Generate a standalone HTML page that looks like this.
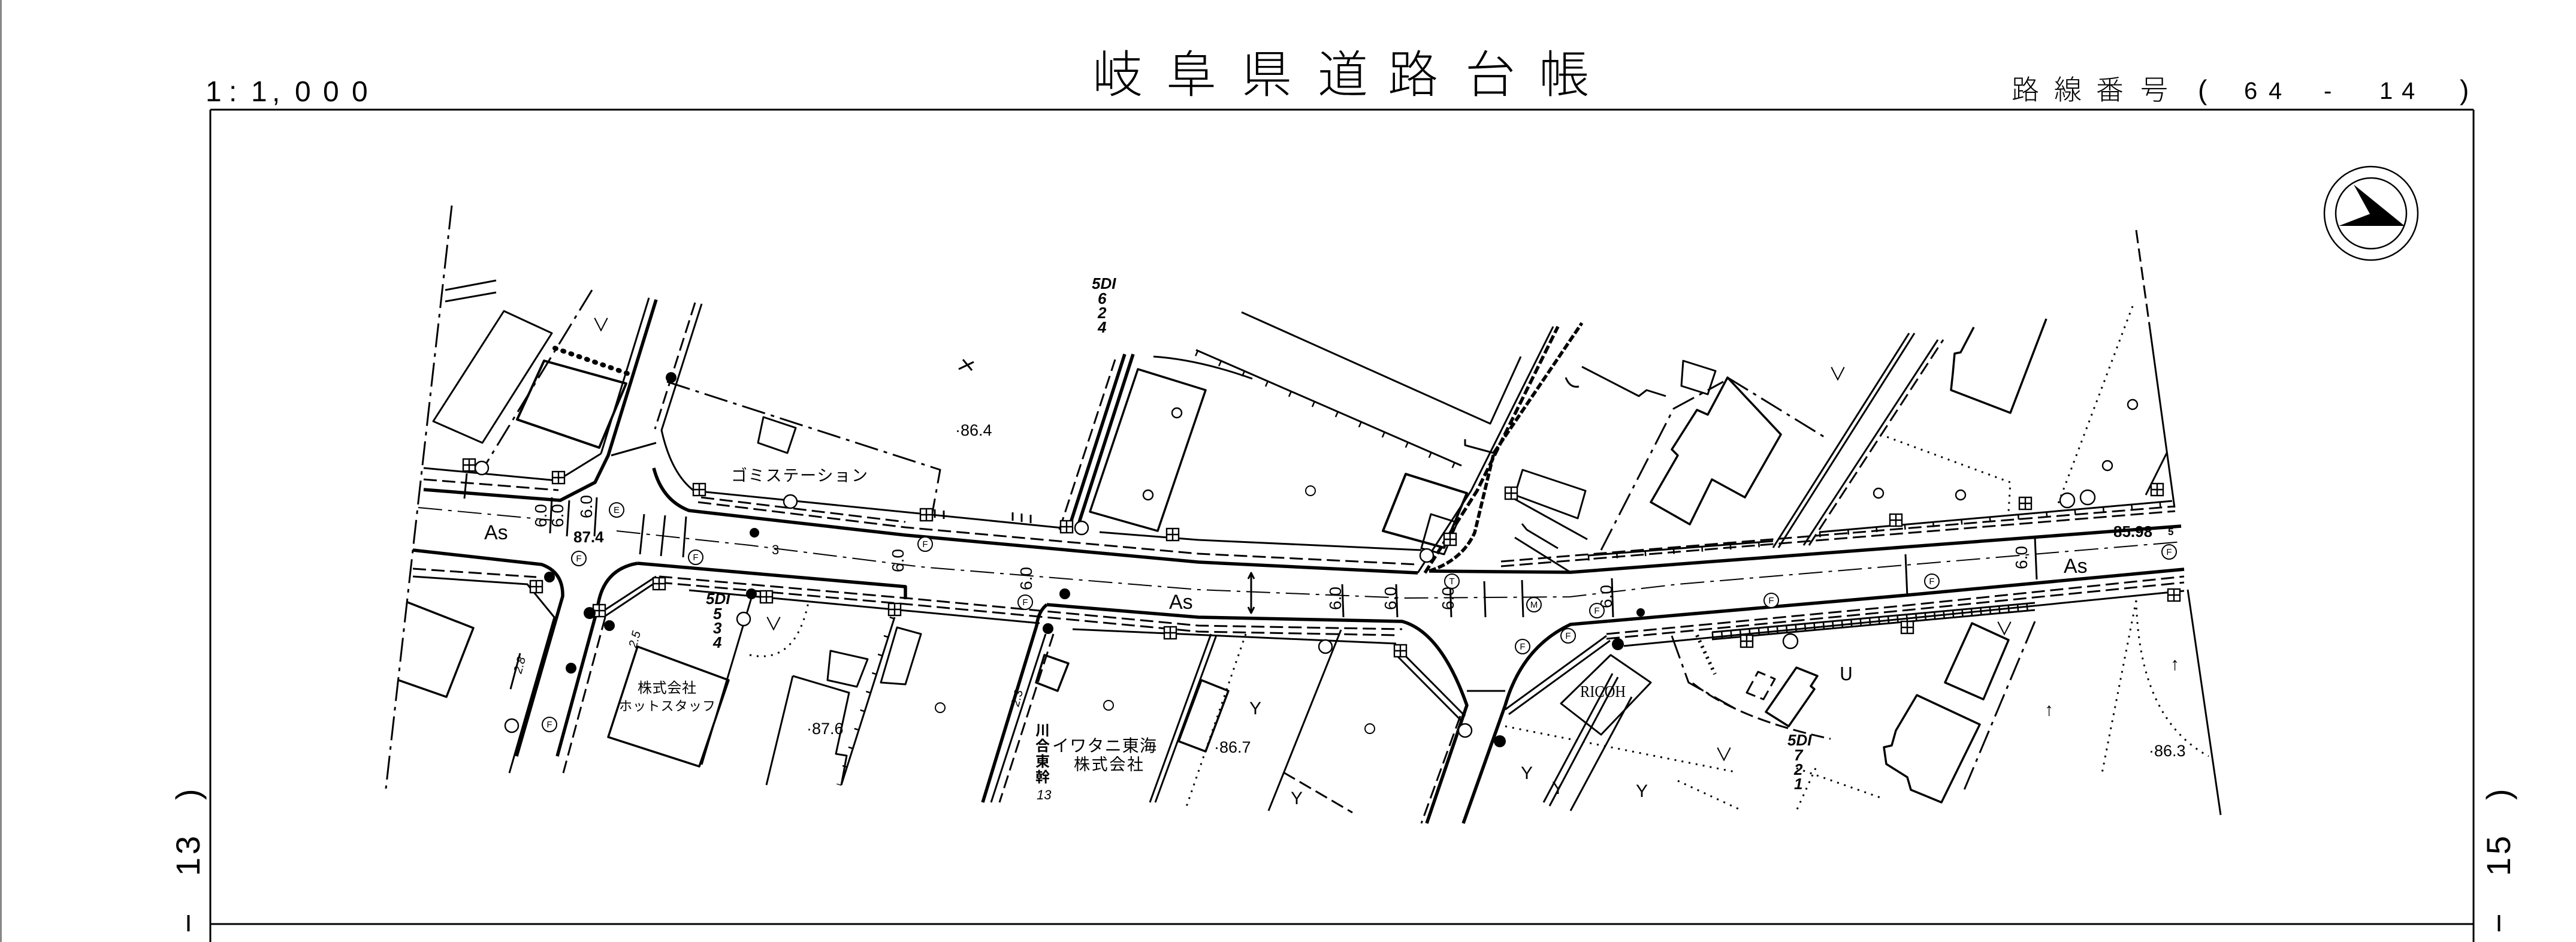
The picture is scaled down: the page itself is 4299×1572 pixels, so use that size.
<!DOCTYPE html>
<html><head><meta charset="utf-8">
<style>
html,body{margin:0;padding:0;background:#fff;}
svg{display:block}
.l{fill:none;stroke:#000;stroke-width:3;stroke-linejoin:round}
.k{stroke-width:5.5}
.d{stroke-dasharray:22 9}
.dd{stroke-dasharray:40 10 6 10}
.dt{stroke-dasharray:3 9}
.tx{font-family:"Liberation Sans","Noto Sans CJK JP",sans-serif;fill:#000;stroke:none}
.jp{font-family:"Liberation Sans","Noto Sans CJK JP",sans-serif;fill:#000;stroke:none}
.sf{font-family:"Liberation Serif","Noto Serif CJK SC",serif;fill:#000;stroke:none}
</style></head><body>
<svg width="4299" height="1572" viewBox="0 0 4299 1572" xmlns="http://www.w3.org/2000/svg">
<defs>
<g id="q" fill="#fff" stroke="#000" stroke-width="2.4"><rect x="-10" y="-10" width="20" height="20"/><path d="M0,-10V10M-10,0H10"/></g>
</defs>
<rect width="4299" height="1572" fill="#fff"/>
<!-- left edge -->
<line x1="1.5" y1="0" x2="1.5" y2="1572" stroke="#888" stroke-width="3"/>
<!-- frame -->
<g stroke="#000" stroke-width="3">
<line x1="351" y1="183" x2="4128" y2="183"/>
<line x1="351" y1="183" x2="351" y2="1572"/>
<line x1="4128" y1="183" x2="4128" y2="1572"/>
<line x1="351" y1="1542" x2="4128" y2="1542"/>
</g>
<!-- headers -->
<text class="tx" font-family="Liberation Sans Narrow, Liberation Sans, sans-serif" font-size="48" fill="#222" x="343 382 419 454 492 539 587" y="169">1:1,000</text>
<text class="jp" font-family="Noto Sans CJK JP, sans-serif" font-weight="300" font-size="84" fill="#333" x="1823 1946 2072 2199 2316 2445 2568" y="154">岐阜県道路台帳</text>
<text class="jp" font-weight="300" font-size="46" fill="#222" x="3357 3428 3498 3572" y="166">路線番号</text>
<text class="tx" font-size="46" fill="#222" x="3668" y="166">(</text>
<text class="tx" font-size="40" fill="#222" x="3745 3786" y="165">64</text>
<text class="tx" font-size="40" fill="#222" x="3878" y="165">-</text>
<text class="tx" font-size="40" fill="#222" x="3971 4008" y="165">14</text>
<text class="tx" font-size="46" fill="#222" x="4105" y="166">)</text>
<text class="tx" font-size="56" fill="#222" transform="translate(333,1557) rotate(-90)" x="0 95 131 222" y="0">−13)</text>
<text class="tx" font-size="56" fill="#222" transform="translate(4189,1557) rotate(-90)" x="0 95 131 222" y="0">−15)</text>
<!-- compass -->
<circle cx="3957" cy="356" r="78" fill="none" stroke="#000" stroke-width="2.5"/>
<circle cx="3957" cy="356" r="59" fill="none" stroke="#000" stroke-width="2.5"/>
<polygon points="3928,308 4013,377 3903,377 3955,357" fill="#000"/>

<g class="l">
<!-- boundaries -->
<path class="dd" d="M754,343 L644,1316"/>
<path d="M743,484 L828,468 M743,503 L828,488"/>
<path class="d" d="M3565,384 L3588,549"/>
<path d="M3588,549 L3629,847"/>
<path d="M3651,984 L3706,1360"/>
<!-- top-left buildings -->
<path d="M841,519 L921,556 L805,739 L723,703 Z"/>
<path stroke-width="4" d="M908,602 L1045,640 L1000,747 L863,700 Z"/>
<path d="M926,581 L1055,626" stroke-width="8" stroke-dasharray="2 12" stroke-linecap="round"/>
<path class="dd" d="M988,484 L805,784"/>
<!-- west north -->
<path class="k" d="M707,817 L935,835 L993,805 L1015,760 L1095,500"/>
<path d="M1003,757 L1083,497"/>
<path class="d" d="M707,800 L932,818"/>
<path d="M707,781 L930,802 L1003,757"/>
<path d="M1020,760 L1095,739"/>
<path d="M779,790 L775,832"/>
<path d="M1171,507 L1104,718 Q1120,790 1158,819 L1783,882"/>
<path class="d" d="M1160,505 L1093,716"/>
<path class="k" d="M1091,781 Q1105,835 1150,852 L1511,893 L2000,938 L2366,956"/>
<path class="d" d="M1165,838 L1511,880 L2000,924 L2366,942"/>
<path class="d" d="M1170,830 L1511,871"/>
<path d="M1835,888 L2000,901 L2372,918"/>
<path class="dd" d="M1113,637 L1569,784 L1555,861"/>
<path d="M1274,696 L1328,714 L1314,756 L1265,739 Z"/>
<path d="M1560,850 L1560,864 M1575,852 L1575,866 M1690,855 L1690,869 M1705,857 L1705,871 M1720,859 L1720,873"/>
<path d="M1607,600 L1622,618 M1600,616 L1625,604"/>
<!-- C upper -->
<path class="k" d="M1783,884 L1877,591"/>
<path class="k" d="M1797,884 L1891,591"/>
<path class="d" d="M1768,884 L1861,600"/>
<path stroke-width="3.5" d="M1899,616 L2012,651 L1932,886 L1819,854 Z"/>
<!-- middle top -->
<path d="M2072,521 L2487,707 L2538,595"/>
<path d="M1996,584 L2439,777"/>
<path transform="translate(0,5)" d="M1996,584 L2439,777" stroke-width="10" stroke-dasharray="2.5 40"/>
<path d="M1925,595 Q2000,600 2090,632"/>
<path stroke-width="4" d="M2346,791 L2448,823 L2410,914 L2308,886 Z"/>
<path d="M2388,858 L2432,872 L2410,925 L2372,915 Z"/>
<path d="M2366,956 L2455,819 L2592,545"/>
<path class="k" d="M2378,956 L2465,819 L2600,545" stroke-dasharray="14 5"/>
<path class="k" d="M2385,953 Q2440,935 2461,889 L2493,756 L2640,539" stroke-dasharray="12 4"/>
<path d="M2445,733 L2445,743 L2493,756"/>
<path d="M2640,612 L2735,661 L2748,651 L2780,661"/>
<path d="M2809,602 L2863,619 L2850,658 L2806,644 Z"/>
<path d="M2541,784 L2646,819 L2633,865 L2528,826 Z"/>
<path d="M2528,833 L2649,900"/>
<path class="dd" d="M2672,918 L2793,682 L2876,637"/>
<path class="dd" d="M2883,630 L3049,732"/>
<path stroke-width="3.5" d="M2883,630 L2972,725 L2912,830 L2857,800 L2820,875 L2755,838 L2800,760 L2790,750 L2832,684 L2850,692 Z"/>
<path d="M2613,630 Q2620,648 2635,645"/>
<path d="M2540,874 L2548,884 L2600,915"/>
<!-- E street -->
<path d="M2959,914 L3186,556 M2968,914 L3195,556"/>
<path d="M3010,910 L3234,567"/>
<path class="d" d="M3019,910 L3243,567"/>
<path stroke-width="3.5" d="M3294,546 L3272,588 L3262,590 L3259,623 L3256,651 L3355,689 L3415,532"/>
<path class="dt" d="M3138,725 L3355,805 L3352,854"/>
<path class="dt" d="M3559,511 L3435,840"/>
<path d="M3616,756 L3581,826"/>
<!-- east north road -->
<path class="k" d="M2385,953 L2621,955 L3640,878"/>
<path class="d" d="M2505,945 L3630,853"/>
<path class="d" d="M2505,937 L3630,845"/>
<path d="M2650,927 L2959,903 M3036,888 L3625,836"/>
<path transform="translate(0,4)" d="M2650,927 L2959,903 M3036,888 L3625,836" stroke-width="9" stroke-dasharray="2.5 45"/>
<path d="M2528,897 L2621,955"/>
<!-- east south road -->
<path class="k" d="M2512,1177 Q2540,1080 2621,1042 L3184,993 L3645,950"/>
<path class="d" d="M2681,1058 L3184,1010 L3645,962"/>
<path class="d" d="M2681,1066 L3184,1018 L3645,972"/>
<path d="M2710,1078 L3184,1032 L3645,986"/>
<path d="M2857,1055 L3396,1006 M2857,1067 L3396,1018"/>
<path d="M2857,1061 L3396,1012" stroke-width="12" stroke-dasharray="2.5 13"/>
<path class="dd" d="M3396,1037 L3278,1318"/>
<path stroke-width="3.5" d="M3291,1040 L3352,1068 L3310,1167 L3246,1139 Z"/>
<path stroke-width="3.5" d="M3199,1160 L3304,1209 L3240,1339 L3189,1318 L3183,1297 L3148,1275 L3144,1247 L3157,1244 L3164,1219 Z"/>
<path stroke-width="3.5" d="M2947,1188 L2998,1114 L3033,1128 L3022,1145 L3028,1150 L2985,1212 Z"/>
<path class="d" d="M2915,1156 L2934,1121 L2962,1133 L2943,1167 Z"/>
<path class="d" d="M2825,1140 Q2900,1200 3055,1233"/>
<path d="M2832,1060 L2862,1125" stroke-width="6" stroke-dasharray="3 7"/>
<path class="dt" d="M2800,1303 L2908,1353 M2998,1282 L3138,1331 M3030,1282 L2998,1353"/>
<path class="dt" d="M3565,1002 L3508,1290"/>
<path class="dt" d="M3565,1002 Q3570,1200 3686,1262"/>
<!-- middle south -->
<path class="k" d="M1064,940 L1511,979 L1511,1000"/>
<path class="k" d="M997,1016 Q1005,950 1064,940"/>
<path class="k" d="M1747,1009 L2000,1030 L2340,1037 Q2405,1055 2448,1177 L2381,1374"/>
<path class="d" d="M1100,962 L1511,998 L2000,1044 L2340,1050"/>
<path class="d" d="M1100,972 L1511,1008 L2000,1054 L2330,1060"/>
<path d="M1150,985 L1735,1040 M1790,1050 L2330,1074"/>
<!-- west south -->
<path class="k" d="M689,918 L904,942 Q940,955 939,995 L862,1262"/>
<path class="d" d="M689,949 L895,963"/>
<path d="M689,962 L880,975 L925,1030 L850,1290"/>
<path class="k" d="M997,1016 L930,1262"/>
<path class="d" d="M1010,1030 L940,1290"/>
<path d="M1003,1022 L1095,962 M1010,1028 L1100,968"/>
<path stroke-width="3.5" d="M680,1005 L790,1048 L745,1163 L665,1135"/>
<path d="M868,1090 L852,1150"/>
<path class="dt" d="M1251,1093 Q1330,1110 1350,1000"/>
<path d="M1256,991 L1171,1276"/>
<path stroke-width="3.5" d="M1064,1079 L1216,1135 L1167,1279 L1015,1230 Z"/>
<path d="M1386,1086 L1448,1100 L1430,1146 L1381,1135 Z"/>
<path d="M1323,1128 L1417,1156 L1395,1258 L1413,1261 L1404,1310 M1323,1128 L1279,1310"/>
<path d="M1497,1047 L1537,1058 L1511,1142 L1470,1139 Z"/>
<path d="M1493,1030 L1404,1310"/>
<path transform="translate(-4,0)" d="M1493,1030 L1404,1310" stroke-width="8" stroke-dasharray="2.5 30"/>
<!-- C lower -->
<path class="k" d="M1747,1009 Q1733,1020 1730,1044 L1640,1339"/>
<path d="M1745,1058 L1654,1339"/>
<path class="d" d="M1758,1058 L1668,1339"/>
<path stroke-width="3.5" d="M1743,1093 L1783,1107 L1765,1153 L1729,1139 Z"/>
<path d="M2021,1058 L1919,1339 M2030,1060 L1928,1339"/>
<path class="dt" d="M2079,1058 L1980,1346"/>
<path stroke-width="3.5" d="M2005,1135 L2050,1153 L2012,1254 L1967,1237 Z"/>
<!-- D lower -->
<path class="k" d="M2512,1177 L2442,1374"/>
<path class="d" d="M2437,1195 L2372,1374"/>
<path d="M2337,1086 L2445,1195 M2330,1093 L2438,1202"/>
<path d="M2512,1184 L2681,1061 M2518,1192 L2687,1069"/>
<path d="M2448,1153 L2512,1153"/>
<path d="M2117,1353 L2238,1051"/>
<path class="d" d="M2142,1289 L2257,1356"/>
<path class="dt" d="M2512,1212 L2900,1289"/>
<path d="M2576,1339 L2691,1124 M2586,1345 L2700,1130 M2621,1353 L2723,1163"/>
<path class="dd" d="M2790,1061 L2818,1139 L2900,1185"/>
<path d="M2688,1093 L2755,1139 L2672,1226 L2605,1174 Z"/>
<!-- centre lines -->
<path class="dd" stroke-width="2" d="M698,847 L921,868 M1029,886 L1252,910 L1537,946 L2000,984 L2346,998 L2620,996 L2800,975 L3642,904"/>
<!-- width marks -->
<path d="M2088,956 L2088,1023 M2083,966 L2088,956 L2093,966 M2083,1013 L2088,1023 L2093,1013"/>
<path d="M3180,925 L3183,995 M3396,896 L3399,967"/>
<path d="M1075,858 L1068,925 M1110,860 L1103,928 M1145,862 L1140,930"/>
<path d="M921,830 L918,890 M950,835 L946,895 M996,830 L992,895"/>
<path d="M2240,975 L2242,1030 M2330,975 L2332,1030 M2420,970 L2422,1030 M2477,970 L2479,1030 M2540,968 L2542,1030 M2690,965 L2692,1030"/>
</g>

<!-- ⊞ markers -->
<use href="#q" x="783" y="776"/><use href="#q" x="932" y="797"/><use href="#q" x="1167" y="817"/>
<use href="#q" x="1546" y="859"/><use href="#q" x="1780" y="879"/><use href="#q" x="1957" y="892"/>
<use href="#q" x="895" y="979"/><use href="#q" x="1100" y="974"/><use href="#q" x="1279" y="996"/>
<use href="#q" x="1493" y="1017"/><use href="#q" x="1000" y="1019"/><use href="#q" x="1953" y="1056"/>
<use href="#q" x="2337" y="1086"/><use href="#q" x="2522" y="823"/>
<use href="#q" x="3164" y="868"/><use href="#q" x="3380" y="840"/><use href="#q" x="3600" y="817"/>
<use href="#q" x="3628" y="993"/><use href="#q" x="2915" y="1070"/><use href="#q" x="3183" y="1047"/>
<use href="#q" x="2420" y="900"/>

<!-- black dots -->
<g fill="#000">
<circle cx="1120" cy="630" r="9"/><circle cx="917" cy="963" r="9"/><circle cx="984" cy="1023" r="10"/>
<circle cx="1017" cy="1044" r="9"/><circle cx="953" cy="1115" r="9"/><circle cx="1254" cy="991" r="9"/>
<circle cx="1777" cy="991" r="9"/><circle cx="1749" cy="1049" r="9"/><circle cx="1259" cy="889" r="8"/>
<circle cx="2503" cy="1237" r="10"/><circle cx="2700" cy="1075" r="10"/><circle cx="2738" cy="1022" r="7"/>
</g>
<!-- open circles -->
<g fill="#fff" stroke="#000" stroke-width="2.4">
<circle cx="804" cy="781" r="11"/><circle cx="1319" cy="837" r="11"/><circle cx="1805" cy="881" r="11"/>
<circle cx="1241" cy="1033" r="11"/><circle cx="854" cy="1211" r="11"/><circle cx="2381" cy="927" r="11"/>
<circle cx="2212" cy="1079" r="11"/><circle cx="2445" cy="1219" r="11"/><circle cx="3450" cy="835" r="12"/>
<circle cx="3484" cy="830" r="12"/><circle cx="2988" cy="1070" r="12"/>
<circle cx="1964" cy="689" r="8"/><circle cx="1916" cy="826" r="8"/>
<circle cx="3559" cy="675" r="8"/><circle cx="3517" cy="777" r="8"/><circle cx="3135" cy="823" r="8"/><circle cx="3272" cy="826" r="8"/>
</g>
<!-- circled letters -->
<g fill="#fff" stroke="#000" stroke-width="2">
<circle cx="1029" cy="851" r="12"/><circle cx="966" cy="932" r="12"/><circle cx="1161" cy="930" r="12"/>
<circle cx="1544" cy="908" r="12"/><circle cx="1711" cy="1005" r="12"/><circle cx="917" cy="1209" r="12"/>
<circle cx="2423" cy="970" r="12"/><circle cx="2560" cy="1009" r="12"/><circle cx="2665" cy="1019" r="12"/>
<circle cx="2617" cy="1061" r="12"/><circle cx="2541" cy="1079" r="12"/><circle cx="2956" cy="1002" r="12"/>
<circle cx="3224" cy="970" r="12"/><circle cx="3620" cy="921" r="12"/>
<circle cx="2187" cy="819" r="8"/><circle cx="1569" cy="1181" r="8"/><circle cx="1850" cy="1177" r="8"/><circle cx="2286" cy="1216" r="8"/>
</g>
<g class="tx" font-size="15" text-anchor="middle">
<text x="1029" y="856">E</text><text x="966" y="937">F</text><text x="1161" y="935">F</text>
<text x="1544" y="913">F</text><text x="1711" y="1010">F</text><text x="917" y="1214">F</text>
<text x="2423" y="975">T</text><text x="2560" y="1014">M</text><text x="2665" y="1024">F</text>
<text x="2617" y="1066">F</text><text x="2541" y="1084">F</text><text x="2956" y="1007">F</text>
<text x="3224" y="975">F</text><text x="3620" y="926">F</text>
</g>

<!-- small map marks -->
<g class="tx" font-size="30">
<text x="1276" y="1052">∨</text>
<text x="988" y="553">∨</text>
<text x="3052" y="635">∨</text>
<text x="2862" y="1270">∨</text>
<text x="3330" y="1060">∨</text>
<text x="2085" y="1192">Y</text>
<text x="2154" y="1342">Y</text>
<text x="2538" y="1300">Y</text>
<text x="2730" y="1330">Y</text>
<text x="2590" y="1325">Y</text>
<text x="3412" y="1194">↑</text>
<text x="3622" y="1118">↑</text>
<text x="3070" y="1135">ᑌ</text>
</g>

<!-- labels -->
<g class="tx">
<text x="808" y="900" font-size="34">As</text>
<text x="1951" y="1016" font-size="34">As</text>
<text x="3444" y="956" font-size="34">As</text>
<text x="957" y="905" font-size="26" font-weight="bold">87.4</text>
<text x="3527" y="896" font-size="26" font-weight="bold">85.98</text>
<text x="3618" y="893" font-size="17" font-weight="bold">5</text>
<text x="1594" y="727" font-size="27">·86.4</text>
<text x="1346" y="1225" font-size="27">·87.6</text>
<text x="2026" y="1256" font-size="27">·86.7</text>
<text x="3586" y="1262" font-size="27">·86.3</text>
<text x="1288" y="925" font-size="22">3</text>
<g font-size="28">
<text transform="translate(912,880) rotate(-90)">6.0</text>
<text transform="translate(940,880) rotate(-90)">6.0</text>
<text transform="translate(988,865) rotate(-90)">6.0</text>
<text transform="translate(1508,955) rotate(-90)">6.0</text>
<text transform="translate(1722,985) rotate(-90)">6.0</text>
<text transform="translate(2238,1018) rotate(-90)">6.0</text>
<text transform="translate(2330,1018) rotate(-90)">6.0</text>
<text transform="translate(2426,1018) rotate(-90)">6.0</text>
<text transform="translate(2690,1015) rotate(-90)">6.0</text>
<text transform="translate(3383,950) rotate(-90)">6.0</text>
</g>
<g font-size="26" font-style="italic" font-weight="bold">
<text x="1822" y="482">5DI</text><text x="1832" y="507">6</text><text x="1832" y="531">2</text><text x="1832" y="555">4</text>
<text x="1178" y="1008">5DI</text><text x="1190" y="1033">5</text><text x="1190" y="1057">3</text><text x="1190" y="1081">4</text>
<text x="2983" y="1244">5DI</text><text x="2994" y="1269">7</text><text x="2994" y="1293">2</text><text x="2994" y="1317">1</text>
</g>
<g font-size="20" font-style="italic">
<text transform="translate(870,1125) rotate(-75)">2.8</text>
<text transform="translate(1700,1180) rotate(-75)">2.3</text>
<text transform="translate(1062,1082) rotate(-75)">2.5</text>
</g>
</g>
<g class="jp">
<text x="1220" y="803" font-size="27" textLength="228" lengthAdjust="spacing">ゴミステーション</text>
<text x="1064" y="1156" font-size="24" textLength="98" lengthAdjust="spacing">株式会社</text>
<text x="1033" y="1186" font-size="22" textLength="161" lengthAdjust="spacing">ホットスタッフ</text>
<text x="1756" y="1254" font-size="28" textLength="174" lengthAdjust="spacing">イワタニ東海</text>
<text x="1792" y="1285" font-size="27" textLength="116" lengthAdjust="spacing">株式会社</text>
<g font-size="24" font-weight="bold">
<text x="1728" y="1227">川</text><text x="1728" y="1253">合</text><text x="1728" y="1279">東</text><text x="1728" y="1305">幹</text>
</g>
<text x="1730" y="1334" font-size="22" font-style="italic">13</text>
</g>
<text class="sf" x="2637" y="1163" font-size="27" textLength="76" lengthAdjust="spacingAndGlyphs">RICOH</text>
</svg>
</body></html>
